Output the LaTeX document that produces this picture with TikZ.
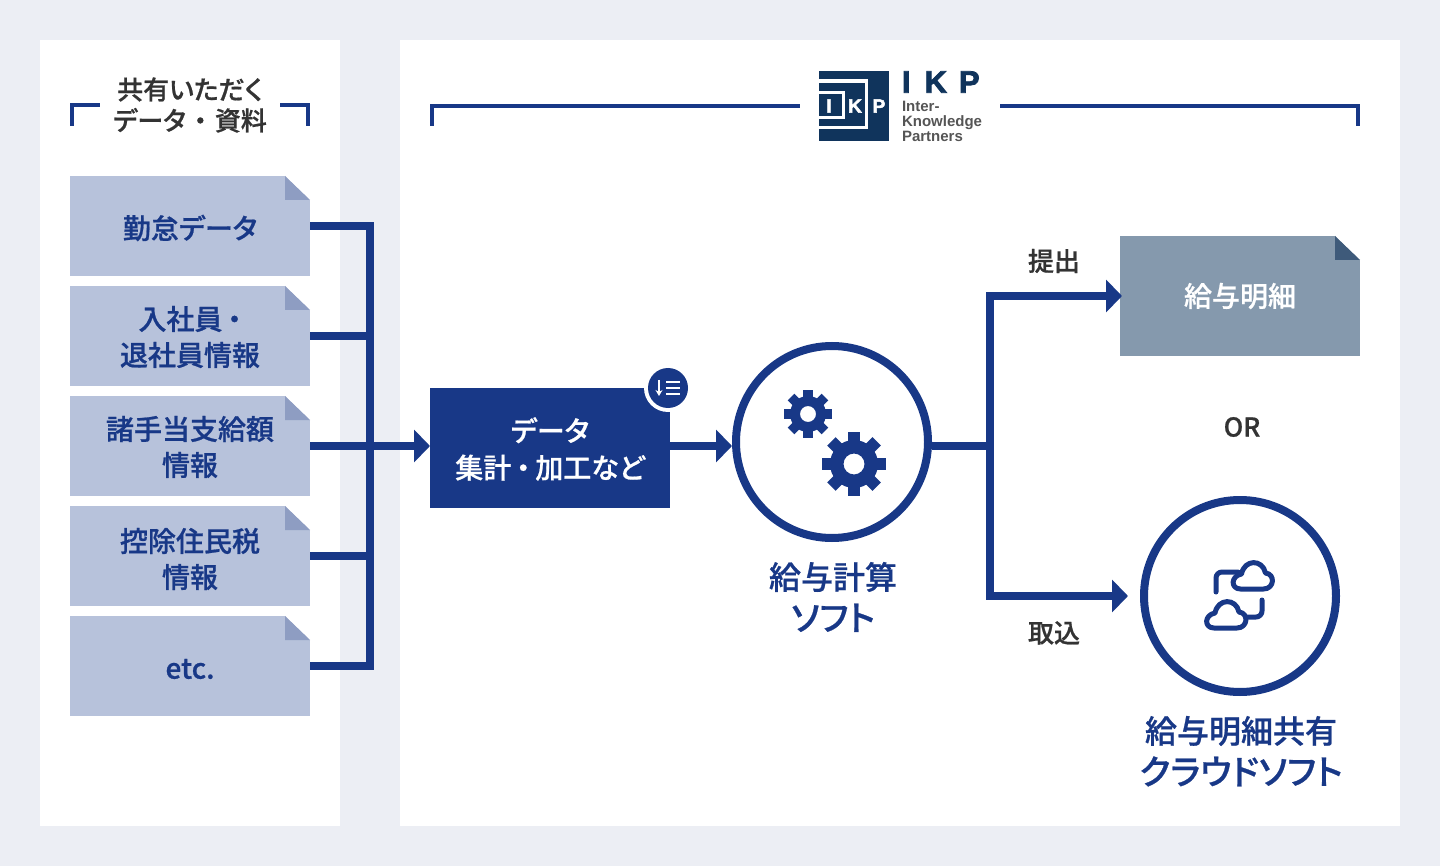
\documentclass[tikz,border=0pt]{standalone}
\usepackage{fontspec}
\usepackage{tikz}
\usetikzlibrary{arrows.meta,positioning,calc}
\setmainfont{Noto Sans CJK JP}[RawFeature=+palt,BoldFont={Noto Sans CJK JP Medium},BoldFeatures={FakeBold=0.7}]
\newfontfamily\logofont{Liberation Sans}
\newfontfamily\logoheavy{Liberation Sans}[BoldFeatures={FakeBold=2.5}]
\definecolor{pagegrey}{RGB}{236,238,244}
\definecolor{navy}{RGB}{24,56,135}
\definecolor{docblue}{RGB}{183,194,219}
\definecolor{foldblue}{RGB}{142,157,194}
\definecolor{docgrey}{RGB}{133,153,173}
\definecolor{foldgrey}{RGB}{62,90,122}
\definecolor{inkdark}{RGB}{51,51,51}
\definecolor{logoblue}{RGB}{16,52,92}
\definecolor{logogrey}{RGB}{85,85,85}
\newcommand{\sz}[2]{\fontsize{#1}{#2}\selectfont\bfseries}
\newcommand{\nak}{\hspace{5pt}・\hspace{5pt}}
\newcommand{\kata}[1]{{\fontsize{34.5}{41.5}\selectfont #1}}

\begin{document}
\begin{tikzpicture}[
    x=1pt, y=-1pt,
    every node/.style={inner sep=0pt, outer sep=0pt, align=center},
    panel/.style={fill=white},
    bracket/.style={draw=navy, line width=4pt},
    docbox/.style={fill=docblue, minimum width=240pt, minimum height=100pt},
    doctext/.style={text=navy, font=\sz{28}{36}},
    stepbox/.style={fill=navy, minimum width=240pt, minimum height=120pt},
    softcircle/.style={circle, draw=navy, fill=white, line width=8pt, minimum size=192pt, outer sep=4pt},
    softlabel/.style={text=navy, xshift=1pt, font=\sz{32}{41.5}},
    smalllabel/.style={text=inkdark, font=\sz{26}{32}},
    link/.style={draw=navy, line width=8pt},
    arrowlink/.style={link, -{Triangle[length=16pt,width=32pt]}},
    geartooth/.style={fill=navy},
    iconline/.style={draw=navy, line width=5pt, line cap=round, line join=round}
  ]
    \fill[pagegrey] (0,0) rectangle (1440,866);
    \fill[panel] (40,40) rectangle (340,826);
    \fill[panel] (400,40) rectangle (1400,826);

    % left heading
    \draw[bracket] (72,126) |- (100,105);
    \draw[bracket] (308,126) |- (280,105);
    \node[text=inkdark, font=\sz{26}{31}] (shared) at (190,105) {共有いただく\\データ\hspace{3pt}\nak\hspace{3pt}資料};

    % source documents
    \node[docbox] (attend) at (190,226) {};
    \node[docbox, below=10pt of attend] (staff) {};
    \node[docbox, below=10pt of staff] (allow) {};
    \node[docbox, below=10pt of allow] (deduct) {};
    \node[docbox, below=10pt of deduct] (etc) {};
    \foreach \n/\s/\t in {attend/-2/勤怠データ, staff/-1/{入社員\nak\\退社員情報}, allow/-1/{諸手当支給額\\情報}, deduct/-3/{控除住民税\\情報}, etc/-3/etc.} {
      \node[doctext, yshift=\s pt] (\n text) at (\n) {\t};
      \fill[white] ($(\n.north east)+(-25,0)$) -- (\n.north east) -- ($(\n.north east)+(0,24)$) -- cycle;
      \fill[foldblue] ($(\n.north east)+(-25,0)$) -- ($(\n.north east)+(0,24)$) -- ($(\n.north east)+(-25,24)$) -- cycle;
    }

    % right heading and logo
    \draw[bracket] (432,126) |- (800,106);
    \draw[bracket] (1358,126) |- (1000,106);
    \node[fill=logoblue, minimum size=70pt] (logo) at (854,106) {};
    \draw[white, line width=3.5pt] (logo.west |- 0,81) -| (866.5,127.5) -- (logo.west |- 0,127.5);
    \draw[white, line width=3pt] (logo.west |- 0,93) -| (843,118) -- (logo.west |- 0,118);
    \node[text=white, font=\logoheavy\sz{19}{19}] (logoi) at (829,106) {I};
    \node[text=white, font=\logoheavy\sz{19}{19}] (logok) at (855,106) {K};
    \node[text=white, font=\logoheavy\sz{19}{19}] (logop) at (879,106) {P};
    \node[text=logoblue, font=\logoheavy\sz{31}{31}, anchor=west] (logoname) at (902,82) {I\hspace{14pt}K\hspace{12pt}P};
    \node[text=logogrey, font=\logofont\sz{15}{15.3}, anchor=north west, align=left] (logotext) at (902,101) {Inter-\\Knowledge\\Partners};

    % process
    \node[stepbox] (data) at (550,448) {};
    \node[doctext, yshift=-1pt, text=white, font=\sz{28}{37}] (datatext) at (data) {データ\\集計\nak 加工など};
    \node[circle, fill=white, minimum size=48pt] (badgering) at (668,388) {};
    \node[circle, fill=navy, minimum size=40pt] (badge) at (668,388) {};
    \draw[white, line width=2.5pt, -{Stealth[length=6pt,width=7pt]}] (659,380) -- (659,396);
    \foreach \y in {382,388,394} \draw[white, line width=2.5pt] (666,\y) -- (680,\y);

    \node[softcircle] (soft) at (832,442) {};
    \node[softlabel, below=20pt of soft] (softname) {給与計算\\\kata{ソフト}};
    \foreach \cx/\cy/\outer/\body/\hole/\tooth in {808/414/24/18/8/9.5, 854/464/32/24/10.5/12} {
      \foreach \a in {0,45,...,315}
        \fill[geartooth, shift={(\cx,\cy)}, rotate=\a] (-\tooth/2,\body-2) rectangle (\tooth/2,\outer);
      \fill[geartooth, even odd rule] (\cx,\cy) circle[radius=\body] (\cx,\cy) circle[radius=\hole];
    }

    % outputs
    \node[docbox, fill=docgrey, minimum height=120pt] (slip) at (1240,296) {};
    \node[doctext, text=white] (sliptext) at (slip) {給与明細};
    \fill[white] ($(slip.north east)+(-25,0)$) -- (slip.north east) -- ($(slip.north east)+(0,24)$) -- cycle;
    \fill[foldgrey] ($(slip.north east)+(-25,0)$) -- ($(slip.north east)+(0,24)$) -- ($(slip.north east)+(-25,24)$) -- cycle;
    \node[smalllabel] (orlabel) at (1242,427) {OR};
    \node[softcircle] (cloud) at (1240,596) {};
    \node[softlabel, below=20pt of cloud] (cloudname) {給与明細共有\\\kata{クラウドソフト}};
    \foreach \cx/\cy in {1252.5/576, 1226/615}
      \draw[iconline, shift={(\cx,\cy)}] (-12,13) .. controls (-22,13) and (-22,0) .. (-11,-2) .. controls (-8,-17) and (10,-17) .. (13,-3) .. controls (23,-2) and (22,13) .. (11,13) -- cycle;
    \draw[iconline, rounded corners=6pt] (1216,592) -- (1216,572) -- (1238,572);
    \draw[iconline, rounded corners=6pt] (1262,600) -- (1262,617) -- (1246,617);

    \node[smalllabel] (submit) at (1054,261) {提出};
    \node[smalllabel] (import) at (1054,633) {取込};

    % connectors
    \coordinate (bus) at (370,446);
    \coordinate (fork) at (990,446);
    \draw[link] (attend.east) -- (attend.east -| bus) -- (etc.east -| bus) -- (etc.east);
    \draw[link] (staff.east) -- (staff.east -| bus);
    \draw[link] (deduct.east) -- (deduct.east -| bus);
    \draw[arrowlink] (allow.east) -- (allow.east -| data.west);
    \draw[arrowlink] (allow.east -| data.east) -- (allow.east -| soft.west);
    \draw[link] (allow.east -| soft.east) -- (fork);
    \draw[arrowlink, shorten >=-2pt] (cloud.west -| fork) |- (slip.west);
    \draw[arrowlink, shorten >=12pt] (slip.west -| fork) |- (cloud.west);
  \end{tikzpicture}
\end{document}
